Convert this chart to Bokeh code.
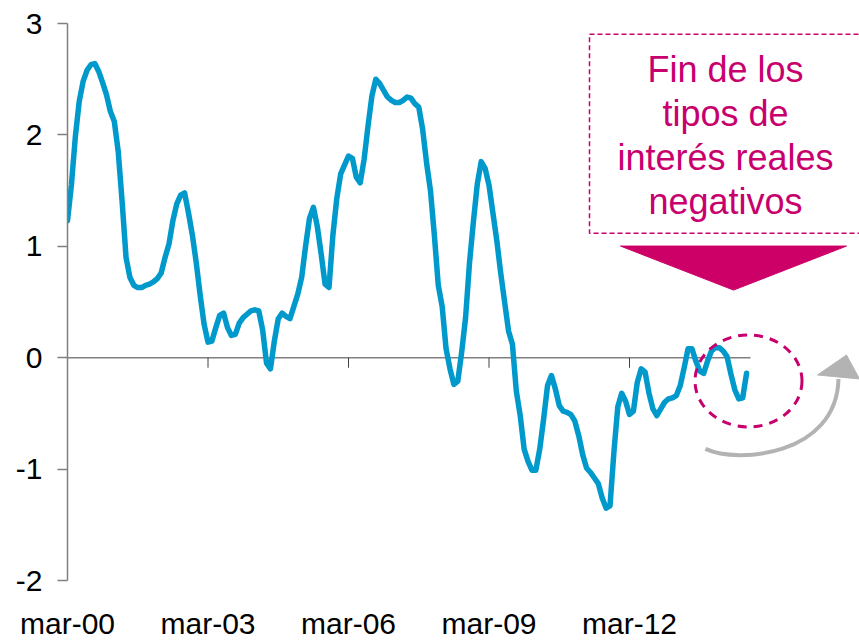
from bokeh.plotting import figure
from bokeh.models import Range1d, FixedTicker
from bokeh.core.properties import value
from bokeh.embed import file_html
from bokeh.resources import INLINE

# Monthly real interest rate (%), starting March 2000
real_rate = [
    1.23, 1.55, 1.98, 2.30, 2.48, 2.58, 2.63, 2.64, 2.57, 2.47, 2.36, 2.21,
    2.12, 1.85, 1.40, 0.90, 0.72, 0.65, 0.63, 0.63, 0.65, 0.66, 0.68, 0.71,
    0.76, 0.90, 1.02, 1.23, 1.38, 1.46, 1.48, 1.30, 1.10, 0.85, 0.56, 0.30,
    0.14, 0.15, 0.27, 0.38, 0.40, 0.27, 0.20, 0.21, 0.31, 0.36, 0.39, 0.42,
    0.43, 0.42, 0.25, -0.05, -0.10, 0.15, 0.35, 0.40, 0.37, 0.35, 0.46, 0.57,
    0.72, 1.00, 1.25, 1.35, 1.18, 0.93, 0.66, 0.63, 1.10, 1.43, 1.65, 1.73,
    1.81, 1.79, 1.62, 1.57, 1.78, 2.08, 2.35, 2.50, 2.46, 2.40, 2.34, 2.31,
    2.29, 2.29, 2.31, 2.34, 2.33, 2.28, 2.25, 2.05, 1.75, 1.50, 1.10, 0.65,
    0.46, 0.08, -0.10, -0.24, -0.21, 0.05, 0.36, 0.85, 1.22, 1.56, 1.76, 1.70,
    1.55, 1.30, 1.05, 0.76, 0.50, 0.24, 0.12, -0.30, -0.52, -0.82, -0.93, -1.01,
    -1.01, -0.82, -0.55, -0.25, -0.16, -0.28, -0.43, -0.48, -0.49, -0.51, -0.57, -0.70,
    -0.87, -0.99, -1.03, -1.08, -1.13, -1.26, -1.35, -1.33, -0.85, -0.44, -0.32, -0.39,
    -0.51, -0.48, -0.22, -0.10, -0.13, -0.32, -0.46, -0.52, -0.46, -0.40, -0.37, -0.36,
    -0.34, -0.25, -0.09, 0.08, 0.08, -0.03, -0.12, -0.14, -0.03, 0.06, 0.09, 0.09,
    0.06, 0.01, -0.15, -0.29, -0.37, -0.36, -0.14,
]
x_labels = ["mar-00", "mar-03", "mar-06", "mar-09", "mar-12"]
y_ticks = [-2, -1, 0, 1, 2, 3]
y_labels = ["-2", "-1", "0", "1", "2", "3"]
note_lines = ["Fin de los", "tipos de", "interés reales", "negativos"]

months = list(range(len(real_rate)))
tick_pos = [36 * i for i in range(len(x_labels))]

FONT = "Liberation Sans"
MAGENTA = "#C8006E"

p = figure(width=859, height=642, output_backend="svg", toolbar_location=None,
           x_range=Range1d(0, 202.93), y_range=Range1d(-2, 3),
           min_border_left=67, min_border_right=0, min_border_top=23,
           min_border_bottom=61)
p.outline_line_color = None
p.grid.visible = False
p.background_fill_color = "white"
p.border_fill_color = "white"

# y axis
ya = p.yaxis[0]
ya.ticker = FixedTicker(ticks=y_ticks)
ya.major_label_overrides = {t: l for t, l in zip(y_ticks, y_labels)}
ya.axis_line_color = "#808080"
ya.axis_line_width = 1.5
ya.major_tick_line_color = "#808080"
ya.major_tick_line_width = 1.5
ya.major_tick_out = 10
ya.major_tick_in = 0
ya.minor_tick_line_color = None
ya.major_label_text_font = FONT
ya.major_label_text_font_size = "30px"
ya.major_label_text_color = "black"
ya.major_label_standoff = 15

# x axis (labels only, at the bottom)
xa = p.xaxis[0]
xa.ticker = FixedTicker(ticks=tick_pos)
xa.major_label_overrides = {t: l for t, l in zip(tick_pos, x_labels)}
xa.axis_line_color = None
xa.major_tick_line_color = None
xa.minor_tick_line_color = None
xa.major_tick_out = 0
xa.major_tick_in = 0
xa.major_label_standoff = 26
xa.major_label_text_font = FONT
xa.major_label_text_font_size = "30px"
xa.major_label_text_color = "black"

# zero line with ticks
x_end = 175
p.segment(x0=[0], y0=[0], x1=[x_end], y1=[0], line_color="#808080", line_width=1.5)
p.segment(x0=tick_pos, y0=[0] * len(tick_pos), x1=tick_pos, y1=[-0.09] * len(tick_pos),
          line_color="#404040", line_width=1)

# series
p.line(months, real_rate, line_color="#0099CC", line_width=5.5,
       line_join="round", line_cap="round")

# annotation box
p.quad(left=[133.75], right=[215], top=[2.903], bottom=[1.118],
       fill_color=None, line_color=MAGENTA, line_width=1.5, line_dash="5 3")
note_y = [2.59, 2.188, 1.80, 1.40]
p.text(x=[168.6] * len(note_lines), y=note_y, text=note_lines,
       text_font=value(FONT), text_font_size="36px", text_color=MAGENTA,
       text_align="center", text_baseline="alphabetic")
p.patch(x=[141.69, 199.6, 170.65], y=[1.002, 1.002, 0.607],
        fill_color="#CC0066", line_color="#CC0066")

# gray curved arrow
p.bezier(x0=[163.47], y0=[-0.819], x1=[197.55], y1=[-0.191],
         cx0=[171.67], cy0=[-0.953], cx1=[197.04], cy1=[-0.882],
         line_color="#B3B3B3", line_width=4)
p.patch(x=[192.17, 199.6, 202.93], y=[-0.155, 0.024, -0.191],
        fill_color="#B3B3B3", line_color="#B3B3B3")

# dashed circle
p.ellipse(x=[174.49], y=[-0.209], width=107, height=92,
          width_units="screen", height_units="screen",
          fill_color=None, line_color=MAGENTA, line_width=3, line_dash="9 7")

open("out.html", "w").write(file_html(p, INLINE))
